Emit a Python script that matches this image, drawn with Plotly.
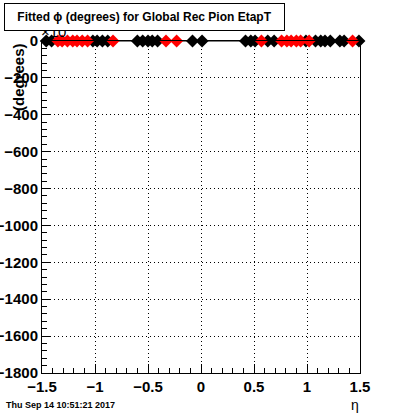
import plotly.graph_objects as go

# Data (eta positions of fitted phi points, phi in units of x10^3 degrees)
black_eta = [-1.46, -1.41, -1.02, -0.98, -0.93, -0.88, -0.60, -0.55, -0.50, -0.46, -0.41,
             -0.08, 0.01, 0.42, 0.47, 0.51, 0.63, 0.69, 0.99, 1.08, 1.13, 1.17, 1.22,
             1.31, 1.35, 1.49]
black_phi = [0] * len(black_eta)
red_eta = [-1.35, -1.31, -1.26, -1.21, -1.17, -1.12, -1.07, -0.83, -0.33, -0.23, 0.57,
           0.76, 0.81, 0.85, 0.90, 0.94, 1.02, 1.43]
red_phi = [0] * len(red_eta)

x_ticks = [-1.5, -1, -0.5, 0, 0.5, 1, 1.5]
x_ticklabels = ["\u22121.5", "\u22121", "\u22120.5", "0", "0.5", "1", "1.5"]
y_ticks = [0, -200, -400, -600, -800, -1000, -1200, -1400, -1600, -1800]
y_ticklabels = ["0", "\u2212200", "\u2212400", "\u2212600", "\u2212800", "\u22121000",
                "\u22121200", "\u22121400", "\u22121600", "\u22121800"]

title_text = "Fitted \u03d5 (degrees) for Global Rec Pion EtapT"
date_text = "Thu Sep 14 10:51:21 2017"

W, H = 400, 414
L, R, T, B = 42, 40, 41, 41
pw, ph = W - L - R, H - T - B

def px(x):
    return (x - L) / pw

def py(y):
    return 1 - (y - T) / ph

fig = go.Figure()
fig.add_trace(go.Scatter(x=black_eta, y=black_phi, mode="lines+markers",
                         line=dict(color="black", width=1),
                         marker=dict(symbol="diamond", size=10, color="black"),
                         cliponaxis=False, showlegend=False))
fig.add_trace(go.Scatter(x=red_eta, y=red_phi, mode="markers",
                         marker=dict(symbol="diamond", size=10, color="red"),
                         cliponaxis=False, showlegend=False))

axfont = dict(family="Liberation Sans, Arial, sans-serif", size=15, color="black", weight="bold")
dotted = "1px,3px"

fig.update_layout(
    width=W, height=H,
    margin=dict(l=L, r=R, t=T, b=B, pad=0, autoexpand=False),
    paper_bgcolor="white", plot_bgcolor="white",
    xaxis=dict(range=[-1.5, 1.5], tickvals=x_ticks, ticktext=x_ticklabels,
               ticks="inside", ticklen=9, tickcolor="black", tickwidth=1,
               minor=dict(dtick=0.1, tick0=0, ticks="inside", ticklen=5, tickcolor="black",
                          showgrid=False),
               showgrid=True, gridcolor="black", griddash=dotted, gridwidth=1,
               showline=True, linecolor="black", linewidth=1, mirror=True,
               zeroline=False, tickfont=axfont, automargin=False),
    yaxis=dict(range=[-1800, 0], tickvals=y_ticks, ticktext=y_ticklabels,
               ticks="inside", ticklen=9, tickcolor="black", tickwidth=1,
               minor=dict(dtick=40, tick0=0, ticks="inside", ticklen=5, tickcolor="black",
                          showgrid=False),
               showgrid=True, gridcolor="black", griddash=dotted, gridwidth=1,
               showline=True, linecolor="black", linewidth=1, mirror=True,
               zeroline=False, tickfont=axfont, automargin=False),
)

annots = [
    dict(text="\u00d710", x=px(39), y=py(42), xref="paper", yref="paper",
         xanchor="left", yanchor="bottom", showarrow=False,
         font=dict(family="Liberation Sans, Arial, sans-serif", size=15, color="black")),
    dict(text=title_text, x=px(4), y=py(3), xref="paper", yref="paper",
         xanchor="left", yanchor="top", showarrow=False, width=279, height=26,
         bgcolor="white", bordercolor="black", borderwidth=1, borderpad=0,
         font=dict(family="Liberation Sans, Arial, sans-serif", size=12, color="black", weight="bold")),
    dict(text="(degrees)", x=px(18), y=py(77), xref="paper", yref="paper",
         xanchor="center", yanchor="middle", textangle=-90, showarrow=False,
         font=dict(family="Liberation Sans, Arial, sans-serif", size=15, color="black", weight="bold")),
    dict(text=date_text, x=px(4), y=py(405), xref="paper", yref="paper",
         xanchor="left", yanchor="middle", showarrow=False,
         font=dict(family="Liberation Sans, Arial, sans-serif", size=9, color="black", weight="bold")),
    dict(text="\u03b7", x=px(355), y=py(405), xref="paper", yref="paper",
         xanchor="center", yanchor="middle", showarrow=False,
         font=dict(family="Liberation Sans, Arial, sans-serif", size=14, color="black")),
]
fig.update_layout(annotations=annots)

fig.write_html("out.html", config={"displayModeBar": False},
               post_script="document.body.style.margin='0';document.body.style.padding='0';")
